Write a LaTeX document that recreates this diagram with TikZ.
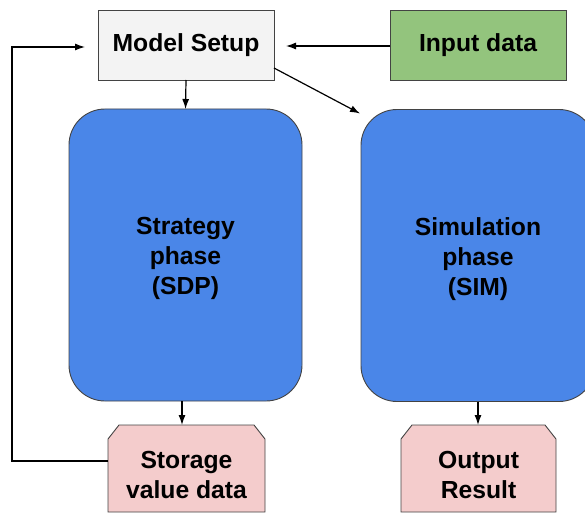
\documentclass[tikz,border=0pt]{standalone}
\usepackage{fontspec}
\setmainfont{Liberation Sans}
\usetikzlibrary{arrows.meta,calc}
\definecolor{setupfill}{HTML}{F3F3F3}
\definecolor{inputfill}{HTML}{93C47D}
\definecolor{phasefill}{HTML}{4A86E8}
\definecolor{outfill}{HTML}{F4CCCC}
\definecolor{edge}{HTML}{434343}
\begin{document}
\begin{tikzpicture}[x=1pt,y=-1pt,
  lbl/.style={font=\fontsize{24.7}{30}\selectfont\bfseries, align=center, text=black},
  topbox/.style={draw=edge, line width=0.9pt, rectangle, minimum width=176pt, minimum height=70pt, inner sep=0pt, outer sep=0pt},
  phase/.style={draw=edge, line width=0.9pt, fill=phasefill, rounded corners=36pt, minimum height=292pt, inner sep=0pt, outer sep=0pt},
  snipframe/.style={rectangle, minimum height=87pt, inner sep=0pt, outer sep=0pt},
  snipdraw/.style={draw=edge, line width=0.9pt, fill=outfill},
  conn/.style={line width=1.2pt, draw=black, -{Latex[length=10pt,width=7pt]}}]
\useasboundingbox (0,0) rectangle (585,513);
\node[topbox, fill=setupfill, lbl] (ms) at (186,45) {Model Setup};
\node[topbox, fill=inputfill, lbl] (in) at (478,45) {Input data};
\node[phase, minimum width=233pt] (sdp) at (185.5,255) {};
\node[lbl] (sdptxt) at ([yshift=-3.5pt]sdp.center) {Strategy\\phase\\(SDP)};
\node[phase, minimum width=234pt] (sim) at (478,255.5) {};
\node[lbl] (simtxt) at ([yshift=-3.5pt]sim.center) {Simulation\\phase\\(SIM)};
\node[snipframe, minimum width=157pt] (st) at (186.5,468.5) {};
\draw[snipdraw] (st.south west) -- ([yshift=-14pt]st.north west) -- ([xshift=11pt]st.north west) -- ([xshift=-11pt]st.north east) -- ([yshift=-14pt]st.north east) -- (st.south east) -- cycle;
\node[lbl] (sttxt) at (186.5,475) {Storage\\value data};
\node[snipframe, minimum width=155pt] (out) at (478.5,468.5) {};
\draw[snipdraw] (out.south west) -- ([yshift=-14pt]out.north west) -- ([xshift=11pt]out.north west) -- ([xshift=-11pt]out.north east) -- ([yshift=-14pt]out.north east) -- (out.south east) -- cycle;
\node[lbl] (outtxt) at (478.5,475) {Output\\Result};
\draw[conn] (ms.south) -- (sdp.north);
\draw[conn] ([yshift=-23pt]ms.east) -- ([xshift=-1pt,yshift=-4pt]sim.north west);
\draw[conn] ([yshift=-1pt]in.west) -- ([xshift=12pt,yshift=-1pt]ms.east);
\draw[conn] ([yshift=7.5pt]st.west) -- ++(-96,0) |- ([xshift=-13pt,yshift=-2pt]ms.west);
\draw[conn] ([xshift=-3.5pt]sdp.south) -- ([xshift=-3.5pt]sdp.south |- st.north);
\draw[conn] (sim.south) -- (sim.south |- out.north);
\end{tikzpicture}
\end{document}
